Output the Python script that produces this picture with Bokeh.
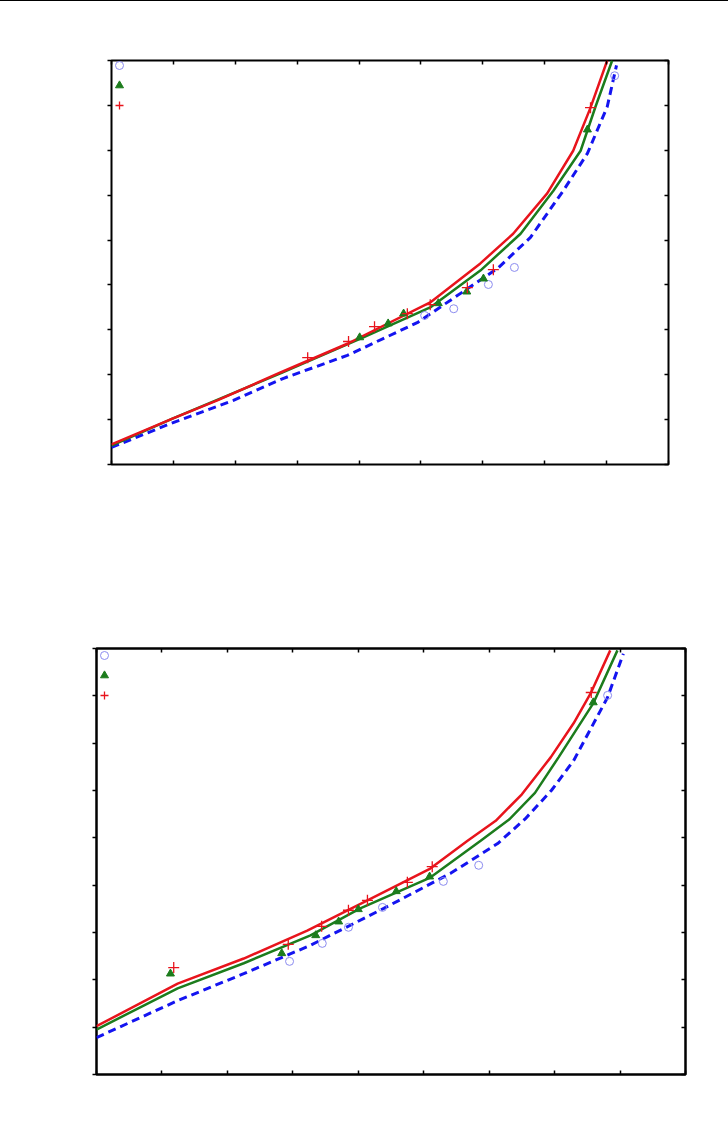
from bokeh.plotting import figure
from bokeh.layouts import column, row
from bokeh.models import FixedTicker, LinearAxis, Legend, LegendItem, Range1d, CustomJSTickFormatter, Div
from bokeh.embed import file_html
from bokeh.resources import INLINE

# ---------------- data: panel 1 ----------------
p1_red_x = [0.0, 0.985, 1.71, 2.73, 3.81, 5.15, 5.96, 6.49, 7.04, 7.46, 7.74, 8.01]
p1_red_y = [0.45, 1.02, 1.43, 2.05, 2.69, 3.61, 4.48, 5.14, 6.04, 6.99, 7.95, 9.0]
p1_green_x = [0.0, 0.985, 2.73, 4.07, 5.15, 5.96, 6.61, 7.14, 7.58, 7.82, 8.09]
p1_green_y = [0.42, 1.02, 2.03, 2.83, 3.50, 4.32, 5.14, 6.10, 6.99, 7.97, 9.0]
p1_blue_x = [0.0, 0.95, 1.97, 2.78, 3.81, 4.94, 6.24, 6.77, 7.30, 7.69, 8.01, 8.16]
p1_blue_y = [0.38, 0.91, 1.43, 1.92, 2.43, 3.16, 4.37, 5.06, 6.10, 6.93, 7.97, 8.89]

p1_circ_x = [5.06, 5.53, 6.09, 6.51, 8.13]
p1_circ_y = [3.32, 3.47, 4.01, 4.39, 8.66]
p1_tri_x = [4.01, 4.47, 4.72, 5.28, 5.74, 6.01, 7.69]
p1_tri_y = [2.83, 3.14, 3.36, 3.59, 3.85, 4.14, 7.46]
p1_cross_x = [3.17, 3.83, 4.25, 4.78, 5.15, 5.75, 6.17, 7.74]
p1_cross_y = [2.38, 2.74, 3.07, 3.36, 3.56, 3.94, 4.34, 7.95]

# ---------------- data: panel 2 ----------------
p2_red_x = [0.0, 1.24, 2.25, 3.22, 4.14, 5.10, 5.67, 6.10, 6.50, 6.94, 7.29, 7.55, 7.85]
p2_red_y = [1.02, 1.92, 2.45, 3.04, 3.68, 4.35, 4.94, 5.36, 5.92, 6.70, 7.42, 8.05, 8.96]
p2_green_x = [0.0, 1.24, 2.25, 3.27, 4.03, 5.10, 5.87, 6.30, 6.70, 7.06, 7.59, 7.96]
p2_green_y = [0.95, 1.82, 2.35, 2.94, 3.51, 4.16, 4.94, 5.38, 5.95, 6.70, 7.84, 8.96]
p2_blue_x = [0.0, 1.24, 2.25, 3.27, 4.39, 5.41, 6.13, 6.55, 6.95, 7.29, 7.81, 8.05]
p2_blue_y = [0.78, 1.56, 2.13, 2.73, 3.51, 4.25, 4.88, 5.40, 6.00, 6.63, 7.97, 8.89]

p2_circ_x = [2.95, 3.45, 3.85, 4.37, 5.30, 5.84, 7.81]
p2_circ_y = [2.39, 2.77, 3.11, 3.53, 4.08, 4.42, 8.01]
p2_tri_x = [1.13, 2.83, 3.35, 3.70, 4.00, 4.58, 5.09, 7.59]
p2_tri_y = [2.13, 2.56, 2.94, 3.23, 3.49, 3.87, 4.18, 7.86]
p2_cross_x = [1.18, 2.93, 3.44, 3.85, 4.14, 4.75, 5.13, 7.56]
p2_cross_y = [2.26, 2.75, 3.13, 3.47, 3.68, 4.06, 4.39, 8.07]

ticks = [0, 1, 2, 3, 4, 5, 6, 7, 8, 9]

RED = "#e8141c"
GREEN = "#1c7c1c"
BLUE = "#1414f0"
CIRC = "#8c8cf0"


def make_panel(fw, fh, bl, bt, bb, br, red, green, blue, circ, tri, cross, outline_w, leg_loc):
    p = figure(frame_width=fw, frame_height=fh, output_backend="svg", toolbar_location=None,
               x_range=Range1d(0, 9), y_range=Range1d(0, 9),
               x_axis_location=None, y_axis_location=None,
               min_border_left=bl, min_border_top=bt, min_border_bottom=bb, min_border_right=br)
    p.grid.visible = False
    p.outline_line_color = "black"
    p.outline_line_width = outline_w
    p.background_fill_color = "white"
    p.border_fill_color = "white"
    blank = "return ''"
    for loc, tin, tout in [("below", 4, 0), ("above", 4, 0), ("left", 0, 4), ("right", 4, 0)]:
        ax = LinearAxis(ticker=FixedTicker(ticks=ticks), formatter=CustomJSTickFormatter(code=blank))
        ax.axis_line_color = None
        ax.major_tick_in = tin
        ax.major_tick_out = tout
        ax.major_tick_line_color = "black"
        ax.major_tick_line_width = 1.5
        ax.minor_tick_line_color = None
        ax.major_label_standoff = 0
        p.add_layout(ax, loc)

    rb = p.line(blue[0], blue[1], line_color=BLUE, line_width=3, line_dash="8 5")
    rg = p.line(green[0], green[1], line_color=GREEN, line_width=2.5)
    rr = p.line(red[0], red[1], line_color=RED, line_width=2.5)
    sc = p.scatter(circ[0], circ[1], marker="circle", size=8, fill_color=None,
                   line_color=CIRC, line_width=1)
    st = p.scatter(tri[0], tri[1], marker="triangle", size=8, fill_color=GREEN,
                   line_color=GREEN, line_width=1)
    sx = p.scatter(cross[0], cross[1], marker="cross", size=11, line_color=RED, line_width=1.3)

    leg = Legend(items=[LegendItem(label=" ", renderers=[sc]),
                        LegendItem(label=" ", renderers=[st]),
                        LegendItem(label=" ", renderers=[sx])],
                 location=leg_loc, background_fill_alpha=0, border_line_color=None,
                 margin=0, padding=0, glyph_width=20, glyph_height=20, label_height=18,
                 spacing=0, label_standoff=0, label_width=1, label_text_font_size="8px")
    p.add_layout(leg)
    return p


p1 = make_panel(557, 404, 111, 59, 40, 52,
                (p1_red_x, p1_red_y), (p1_green_x, p1_green_y), (p1_blue_x, p1_blue_y),
                (p1_circ_x, p1_circ_y), (p1_tri_x, p1_tri_y), (p1_cross_x, p1_cross_y), 2,
                (-2, 349))
p2 = make_panel(589, 426, 96, 144, 30, 35,
                (p2_red_x, p2_red_y), (p2_green_x, p2_green_y), (p2_blue_x, p2_blue_y),
                (p2_circ_x, p2_circ_y), (p2_tri_x, p2_tri_y), (p2_cross_x, p2_cross_y), 2.5,
                (-2, 369))

header = Div(text="", width=728, height=1, margin=0, styles={"background-color": "black"})

layout = column(header, row(p1), row(p2), spacing=0)
open("out.html", "w").write(file_html(layout, INLINE))
